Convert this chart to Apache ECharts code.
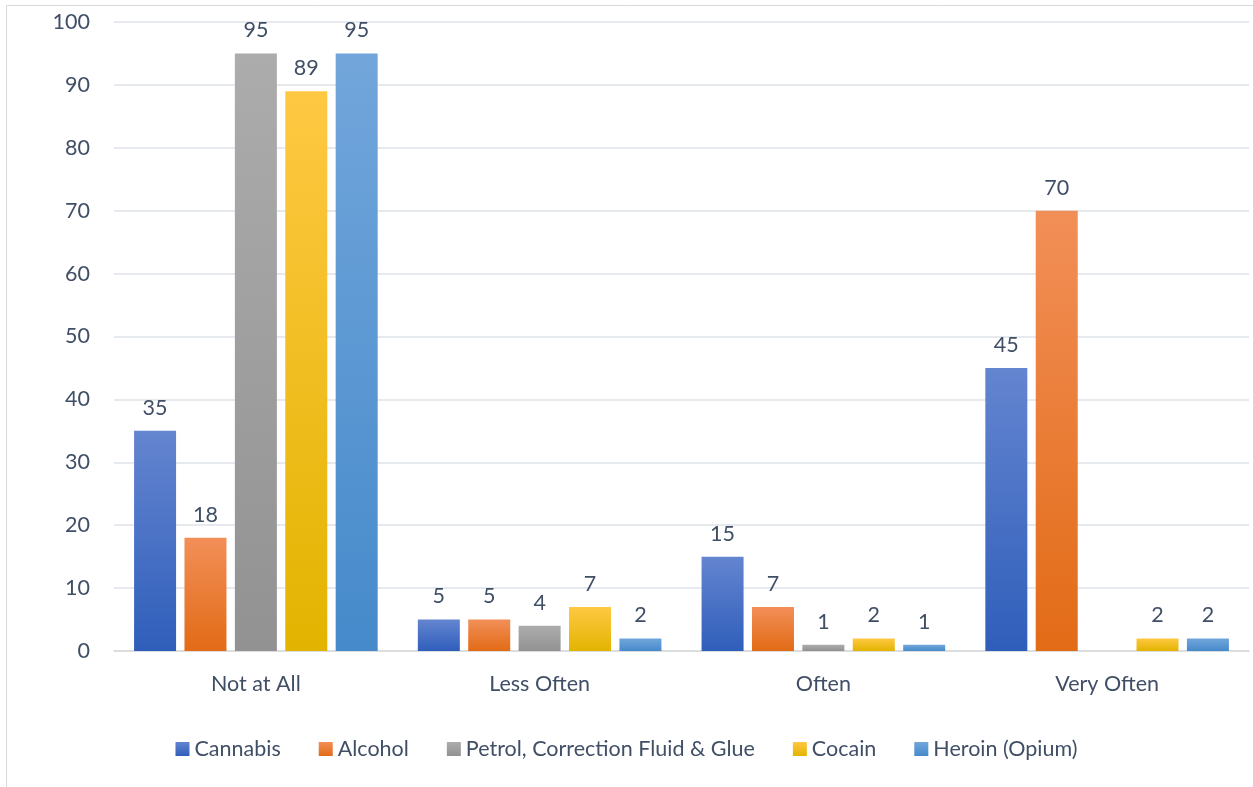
<!DOCTYPE html>
<html>
<head>
<meta charset="utf-8">
<script src="https://cdn.jsdelivr.net/npm/echarts@6/dist/echarts.min.js"></script>
<style>
  html, body { margin: 0; padding: 0; background: #ffffff; }
  #chart { width: 1253px; height: 787px; }
</style>
</head>
<body>
<div id="chart"></div>
<script>
// Frequency categories on the x axis
const categories = ['Not at All', 'Less Often', 'Often', 'Very Often'];

// Responses per substance (null = no bar)
const cannabis = [35, 5, 15, 45];
const alcohol  = [18, 5, 7, 70];
const petrol   = [95, 4, 1, null];
const cocain   = [89, 7, 2, 2];
const heroin   = [95, 2, 1, 2];

const seriesNames = ['Cannabis', 'Alcohol', 'Petrol, Correction Fluid & Glue', 'Cocain', 'Heroin (Opium)'];
const seriesData = [cannabis, alcohol, petrol, cocain, heroin];

// top / bottom gradient stops for each substance
const gradients = [
  ['#6485D0', '#2F5EBA'],
  ['#F28F58', '#E26B16'],
  ['#ACACAC', '#929292'],
  ['#FFC843', '#E2B400'],
  ['#72A6DB', '#468ACB']
];

const FONT = 'Lato, "Open Sans", sans-serif';
const TEXT = '#404F66';
const FS = 21.5;

const chart = echarts.init(document.getElementById('chart'));

chart.setOption({
  backgroundColor: '#ffffff',
  animation: false,
  graphic: [{
    type: 'rect',
    shape: { x: 6.5, y: 5.5, width: 1400, height: 1000 },
    style: { fill: 'none', stroke: '#D9D9D9', lineWidth: 1 },
    silent: true
  }],
  grid: { left: 114, right: 4, top: 22, bottom: 136 },
  legend: {
    bottom: 22,
    left: 'center',
    itemWidth: 14,
    itemHeight: 14,
    itemGap: 38,
    icon: 'rect',
    textStyle: { color: TEXT, fontSize: FS, fontFamily: FONT },
    data: seriesNames
  },
  xAxis: {
    type: 'category',
    data: categories,
    axisLine: { show: true, lineStyle: { color: '#D9D9D9', width: 1.5 } },
    axisTick: { show: false },
    axisLabel: { color: TEXT, fontSize: FS, fontFamily: FONT, margin: 22 }
  },
  yAxis: {
    type: 'value',
    min: 0,
    max: 100,
    interval: 10,
    axisLine: { show: false },
    axisTick: { show: false },
    splitLine: { lineStyle: { color: '#DEE2E8', width: 1.5 } },
    axisLabel: { color: TEXT, fontSize: FS, fontFamily: FONT, margin: 24 }
  },
  series: seriesData.map((d, i) => ({
    name: seriesNames[i],
    type: 'bar',
    data: d,
    barWidth: 42,
    barGap: '20%',
    itemStyle: {
      color: {
        type: 'linear', x: 0, y: 0, x2: 0, y2: 1,
        colorStops: [
          { offset: 0, color: gradients[i][0] },
          { offset: 1, color: gradients[i][1] }
        ]
      }
    },
    label: {
      show: true,
      position: 'top',
      distance: 12,
      color: TEXT,
      fontSize: FS,
      fontFamily: FONT
    }
  }))
});
</script>
</body>
</html>
